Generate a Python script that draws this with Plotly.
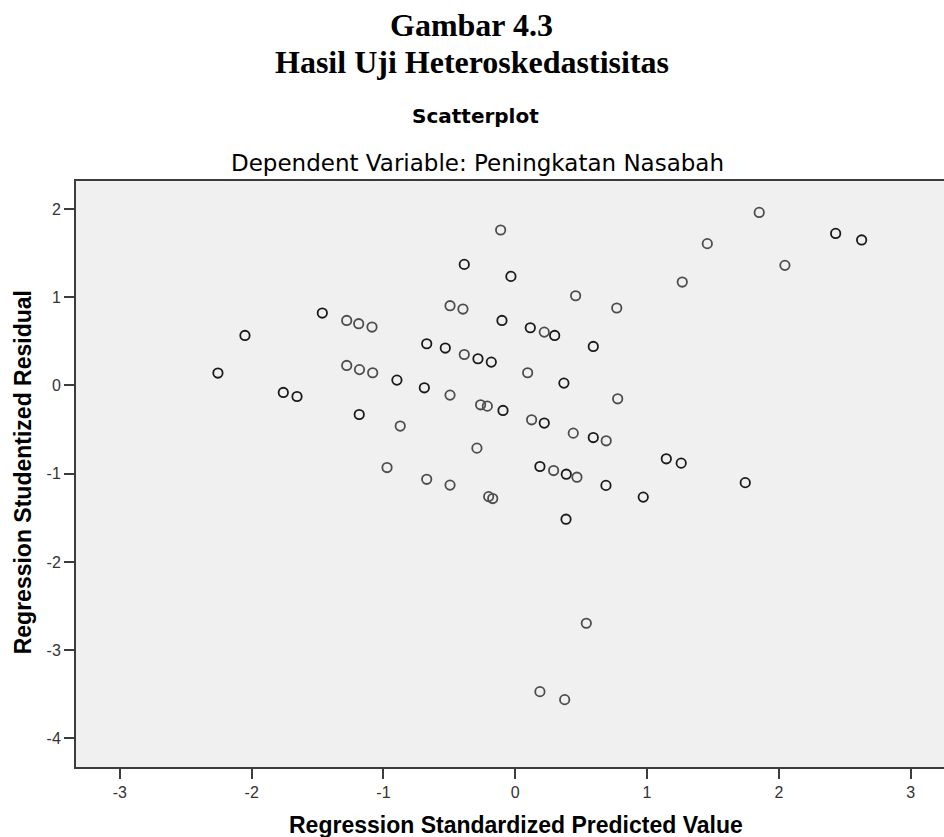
import plotly.graph_objects as go

# Regression Standardized Predicted Value
pred = [-1.464, -1.279, -1.188, -1.087, -2.051, -2.256, -1.279, -1.182, -1.082, -1.760,
        -1.656, -1.184, -0.111, -0.387, -0.033, 0.458, -0.495, -0.397, 0.770, -0.101,
        0.114, 0.220, 0.299, 0.592, -0.672, -0.531, -0.387, -0.283, -0.182, 0.094,
        0.369, -0.898, -0.690, -0.495, 0.777, -0.263, -0.212, -0.093, -0.873, 0.124,
        0.220, 0.440, 0.592, 0.690, -0.291, -0.973, 0.187, 0.291, 0.387, 0.468,
        0.688, -0.672, -0.495, -0.202, -0.171, 0.385, 0.539, 0.187, 0.375, 1.851,
        1.457, 2.431, 2.628, 2.046, 1.267, 1.146, 1.259, 1.745, 0.971]
# Regression Studentized Residual
resid = [0.821, 0.737, 0.700, 0.662, 0.567, 0.141, 0.227, 0.180, 0.144, -0.079,
         -0.125, -0.329, 1.762, 1.372, 1.236, 1.017, 0.904, 0.866, 0.878, 0.737,
         0.654, 0.605, 0.567, 0.442, 0.473, 0.424, 0.351, 0.303, 0.265, 0.144,
         0.027, 0.061, -0.026, -0.109, -0.151, -0.219, -0.234, -0.283, -0.460, -0.389,
         -0.426, -0.540, -0.590, -0.627, -0.710, -0.930, -0.918, -0.964, -1.005, -1.039,
         -1.132, -1.063, -1.129, -1.259, -1.281, -1.515, -2.694, -3.469, -3.560, 1.961,
         1.607, 1.723, 1.649, 1.361, 1.172, -0.831, -0.880, -1.101, -1.265]
# number of overlapping cases at each plotted position
cases = [2, 1, 1, 1, 2, 2, 1, 1, 1, 2,
         2, 2, 1, 2, 2, 1, 1, 1, 1, 2,
         2, 1, 2, 2, 2, 2, 1, 2, 2, 1,
         2, 2, 2, 1, 1, 1, 1, 2, 1, 1,
         2, 1, 2, 1, 1, 1, 2, 1, 2, 1,
         2, 1, 1, 1, 1, 2, 1, 1, 1, 1,
         1, 2, 2, 1, 1, 2, 2, 2, 2]

x_ticks = [-3, -2, -1, 0, 1, 2, 3]
x_tick_labels = ["-3", "-2", "-1", "0", "1", "2", "3"]
y_ticks = [-4, -3, -2, -1, 0, 1, 2]
y_tick_labels = ["-4", "-3", "-2", "-1", "0", "1", "2"]

colors = ["#1a1a1a" if c > 1 else "#4d4d4d" for c in cases]

fig = go.Figure()
fig.add_trace(go.Scatter(
    x=pred, y=resid, mode="markers",
    marker=dict(symbol="circle-open", size=9.4, color=colors, line=dict(width=1.8)),
    showlegend=False, hoverinfo="x+y"))

axis_common = dict(
    showgrid=False, zeroline=False, showline=True, linecolor="#3c3c3c", linewidth=2,
    ticks="outside", ticklen=10, tickwidth=1.5, tickcolor="#3c3c3c",
    tickfont=dict(family="Liberation Sans", size=16, color="#333333"),
)

fig.update_layout(
    width=944, height=837,
    margin=dict(l=76, r=0, t=181, b=70),
    paper_bgcolor="white", plot_bgcolor="#f0f0f0",
    xaxis=dict(range=[-3.333, 3.253], tickvals=x_ticks, ticktext=x_tick_labels,
               mirror=True, **axis_common),
    yaxis=dict(range=[-4.323, 2.317], tickvals=y_ticks, ticktext=y_tick_labels,
               mirror=False, **axis_common),
)

def add_text(text, x, y, family, size, bold=False, angle=0):
    fig.add_annotation(
        text=f"<b>{text}</b>" if bold else text,
        x=x, y=y, xref="paper", yref="paper", xanchor="center", yanchor="middle",
        showarrow=False, textangle=angle,
        font=dict(family=family, size=size, color="black"))

add_text("Gambar 4.3", 0.4562, 1.2654, "Liberation Serif", 32, bold=True)
add_text("Hasil Uji Heteroskedastisitas", 0.4562, 1.2032, "Liberation Serif", 32, bold=True)
add_text("Scatterplot", 0.4608, 1.1114, "DejaVu Sans", 20, bold=True)
add_text("Dependent Variable: Peningkatan Nasabah", 0.462, 1.031, "DejaVu Sans", 23)
add_text("Regression Standardized Predicted Value", 0.5069, -0.0996, "Liberation Sans", 23, bold=True)
add_text("Regression Studentized Residual", -0.061, 0.503, "Liberation Sans", 23, bold=True, angle=-90)

fig.write_html("out.html", config={"displayModeBar": False},
               post_script="document.body.style.margin='0';")
